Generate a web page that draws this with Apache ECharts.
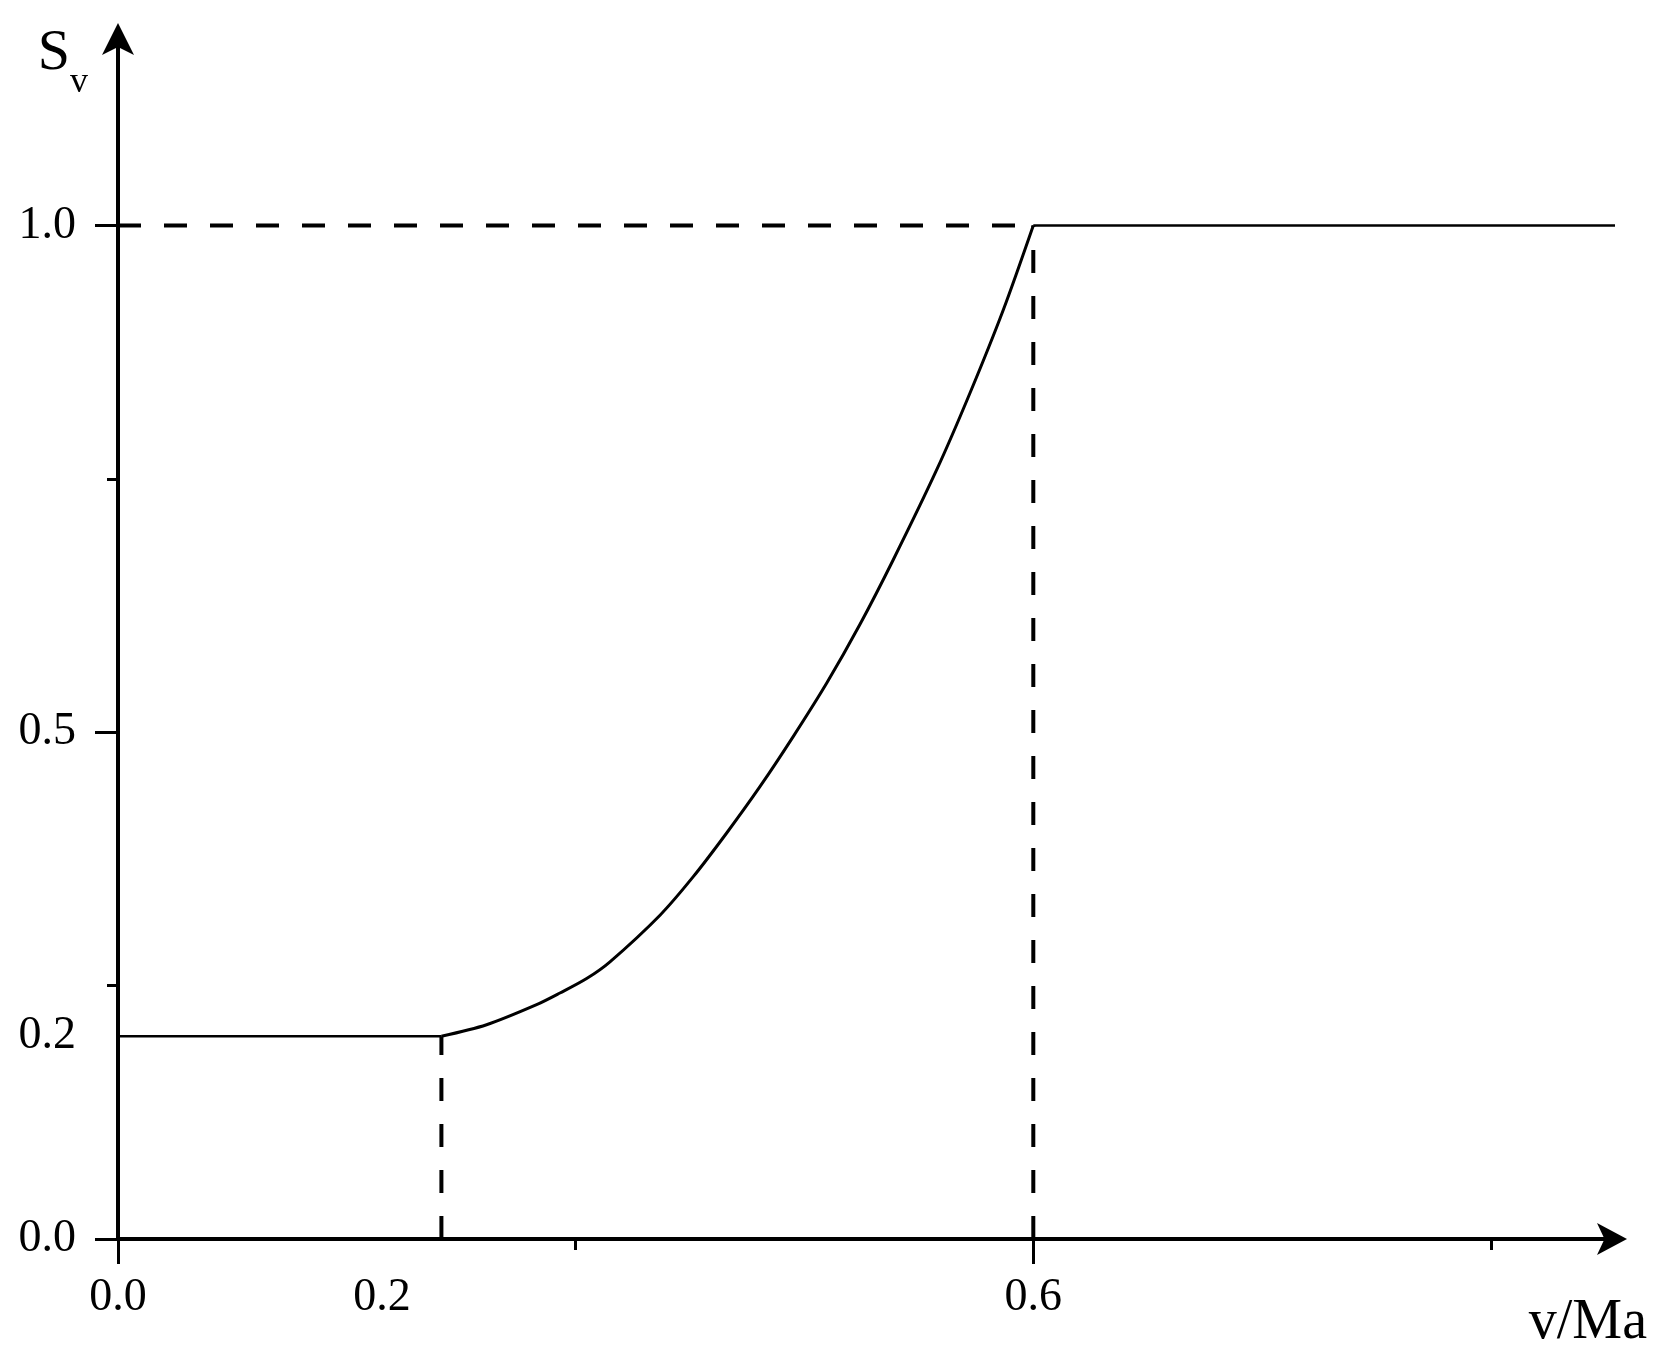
<!DOCTYPE html>
<html>
<head>
<meta charset="utf-8">
<script src="https://cdn.jsdelivr.net/npm/echarts@6/dist/echarts.min.js"></script>
<style>
html,body{margin:0;padding:0;background:#fff;}
#main{width:1671px;height:1362px;}
</style>
</head>
<body>
<div id="main"></div>
<script>
// ---- data ----
const lowPlateau = [[0, 0.2], [0.212, 0.2]];
const rampCurve = [
  [0.212, 0.2], [0.2416, 0.2114], [0.2744, 0.2312], [0.2897, 0.2427],
  [0.3072, 0.257], [0.3225, 0.2735], [0.3553, 0.3195], [0.3771, 0.3575],
  [0.399, 0.4006], [0.4209, 0.4465], [0.4427, 0.4959], [0.4646, 0.5485],
  [0.4864, 0.6065], [0.5082, 0.6702], [0.5367, 0.759], [0.5585, 0.8347],
  [0.5803, 0.9166], [0.6, 1.0]
];
const highPlateau = [[0.6, 1.0], [0.988, 1.0]];
const guideTop = [[0, 1.0], [0.6, 1.0]];
const guideRight = [[0.6, 0], [0.6, 1.0]];
const guideLeft = [[0.212, 0], [0.212, 0.2]];

const xLabelValues = [0, 0.173, 0.6];
const xLabelTexts = ['0.0', '0.2', '0.6'];
const yLabelValues = [0, 0.2, 0.5, 1.0];
const yLabelTexts = ['0.0', '0.2', '0.5', '1.0'];
const xMajorTicks = [0, 0.6];
const xMinorTicks = [0.3, 0.9];
const yMajorTicks = [0, 0.5, 1.0];
const yMinorTicks = [0.25, 0.75];
const xMax = 0.98;
const yMax = 1.184;

const FONT = '"Liberation Serif", "Times New Roman", serif';
const chart = echarts.init(document.getElementById('main'), null, {renderer: 'canvas'});

const GRID = {left: 118, top: 39, right: 58, bottom: 123};

function lookup(values, texts) {
  return function (v) {
    for (let i = 0; i < values.length; i++) {
      if (Math.abs(values[i] - v) < 1e-6) return texts[i];
    }
    return '';
  };
}

const solid = (w) => ({color: '#000', width: w, type: 'solid'});
const dashed = {color: '#000', width: 4, type: [23, 23]};

chart.setOption({
  animation: false,
  backgroundColor: '#fff',
  grid: GRID,
  xAxis: [{
    type: 'value', min: 0, max: xMax, position: 'bottom',
    name: 'v/Ma', nameLocation: 'end', nameGap: 34,
    nameTextStyle: {fontFamily: FONT, fontSize: 56, color: '#000', align: 'right', verticalAlign: 'top', padding: [56, 0, 0, 0]},
    axisLine: {show: true, onZero: false, symbol: ['none', 'arrow'], symbolSize: [24, 30], symbolOffset: [0, 14], lineStyle: {color: '#000', width: 4}},
    axisTick: {show: true, inside: false, length: 25, customValues: xMajorTicks, lineStyle: {color: '#000', width: 3}},
    axisLabel: {show: true, customValues: xLabelValues, formatter: lookup(xLabelValues, xLabelTexts), margin: 36, fontFamily: FONT, fontSize: 46, color: '#000'},
    splitLine: {show: false}
  }, {
    type: 'value', min: 0, max: xMax, position: 'bottom', offset: 0,
    axisLine: {show: false, onZero: false},
    axisTick: {show: true, inside: false, length: 11, customValues: xMinorTicks, lineStyle: {color: '#000', width: 3}},
    axisLabel: {show: false},
    splitLine: {show: false}
  }],
  yAxis: [{
    type: 'value', min: 0, max: yMax, position: 'left',
    name: '{s|S}{v|v}', nameLocation: 'end', nameGap: -24,
    nameTextStyle: {
      align: 'right', verticalAlign: 'middle', padding: [0, 30, 0, 0],
      rich: {
        s: {fontFamily: FONT, fontSize: 58, lineHeight: 76, verticalAlign: 'top', color: '#000'},
        v: {fontFamily: FONT, fontSize: 36, lineHeight: 36, verticalAlign: 'bottom', color: '#000'}
      }
    },
    axisLine: {show: true, onZero: false, symbol: ['none', 'arrow'], symbolSize: [24, 32], symbolOffset: [0, 16], lineStyle: {color: '#000', width: 4}},
    axisTick: {show: true, inside: false, length: 23, customValues: yMajorTicks, lineStyle: {color: '#000', width: 3}},
    axisLabel: {show: true, customValues: yLabelValues, formatter: lookup(yLabelValues, yLabelTexts), margin: 42, fontFamily: FONT, fontSize: 46, color: '#000'},
    splitLine: {show: false}
  }, {
    type: 'value', min: 0, max: yMax, position: 'left', offset: 0,
    axisLine: {show: false, onZero: false},
    axisTick: {show: true, inside: false, length: 11, customValues: yMinorTicks, lineStyle: {color: '#000', width: 3}},
    axisLabel: {show: false},
    splitLine: {show: false}
  }],
  series: [
    {type: 'line', data: guideTop, showSymbol: false, symbol: 'none', lineStyle: dashed, z: 1},
    {type: 'line', data: guideRight, showSymbol: false, symbol: 'none', lineStyle: dashed, z: 1},
    {type: 'line', data: guideLeft, showSymbol: false, symbol: 'none', lineStyle: dashed, z: 1},
    {type: 'line', data: lowPlateau, showSymbol: false, symbol: 'none', lineStyle: solid(2.5), z: 2},
    {type: 'line', data: rampCurve, showSymbol: false, symbol: 'none', smooth: 0.3, lineStyle: solid(3), z: 2},
    {type: 'line', data: highPlateau, showSymbol: false, symbol: 'none', clip: false, lineStyle: solid(2.5), z: 2}
  ]
});
</script>
</body>
</html>
